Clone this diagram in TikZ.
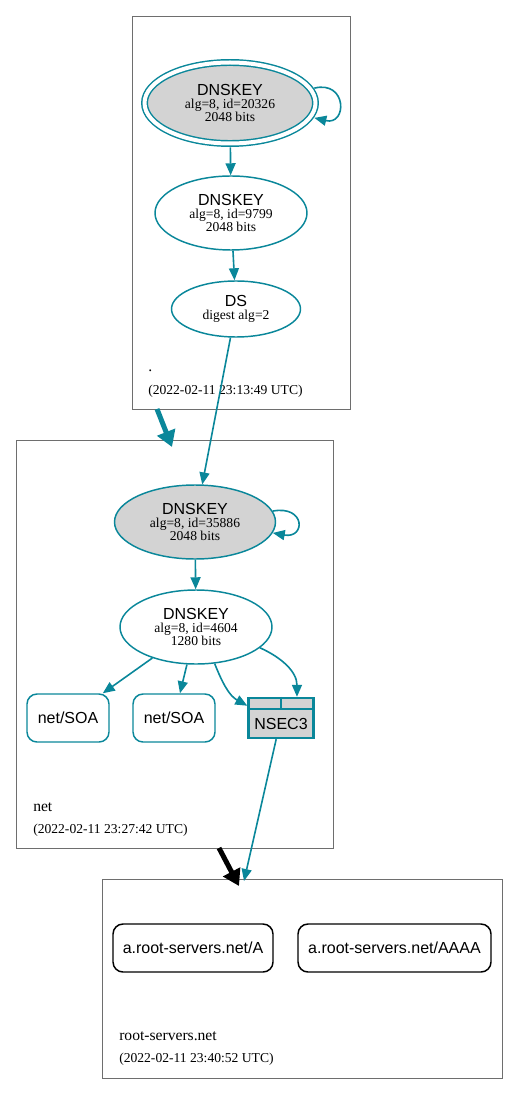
\documentclass[tikz,border=0pt]{standalone}
\usepackage{fontspec}
\setmainfont{Liberation Serif}
\setsansfont{Liberation Sans}
\definecolor{KeyTeal}{HTML}{0a879a}
\definecolor{KeyGray}{HTML}{d3d3d3}
\definecolor{ZoneLine}{HTML}{6e6e6e}
\usepackage{tikz}
\usetikzlibrary{arrows.meta,positioning,shapes.geometric}
\newcommand{\keyname}[1]{{\sffamily\fontsize{12}{12}\selectfont #1}}

\begin{document}
\begin{tikzpicture}[x=0.75pt,y=-0.75pt,
    zone/.style={draw=ZoneLine,line width=0.6pt,inner sep=0pt},
    zonename/.style={anchor=west,inner sep=0pt,font=\fontsize{11.7}{13}\selectfont},
    zonedate/.style={anchor=west,inner sep=0pt,font=\fontsize{10.2}{12}\selectfont},
    key/.style={ellipse,draw=KeyTeal,line width=1.1pt,inner sep=0pt,align=center,
                font=\fontsize{10.2}{9.75}\selectfont},
    rrset/.style={draw=KeyTeal,line width=1.1pt,rounded corners=7.5pt,
                  minimum height=36pt,font=\sffamily\fontsize{12}{14}\selectfont},
    link/.style={KeyTeal,line width=1.2pt,-{Triangle[length=9pt,width=7.5pt]}},
    delegation/.style={line width=3.75pt,-{Triangle[length=12pt,width=14pt]}}]
        \useasboundingbox (0,0) rectangle (519,1094);
        \node (zroot) [zone,minimum width=163.5pt,minimum height=294.75pt] at (241,212.5) {};
        \node (znet) [zone,minimum width=237.75pt,minimum height=306pt] at (174.5,644) {};
        \node (zrs) [zone,minimum width=300pt,minimum height=149.25pt] at (302,978.5) {};
        \node (rootname) [zonename] at (148,371) {.};
        \node (rootdate) [zonedate] at (148,391) {(2022-02-11 23:13:49 UTC)};
        \node (netname) [zonename] at (33,807) {net};
        \node (netdate) [zonedate] at (33,830) {(2022-02-11 23:27:42 UTC)};
        \node (rsname) [zonename] at (119,1036) {root-servers.net};
        \node (rsdate) [zonedate] at (119,1059) {(2022-02-11 23:40:52 UTC)};

        \node (k1) [key,double,double distance=3pt,fill=KeyGray,outer sep=3pt,
                    minimum width=128.25pt,minimum height=60.75pt] at (230,103)
              {\keyname{DNSKEY}\\alg=8, id=20326\\2048 bits};
        \node (k2) [key,minimum width=114pt,minimum height=55.5pt] at (231,213)
              {\keyname{DNSKEY}\\alg=8, id=9799\\2048 bits};
        \node (ds) [key,minimum width=96.75pt,minimum height=42pt] at (236,309)
              {\keyname{DS}\\digest alg=2};
        \node (k3) [key,fill=KeyGray,minimum width=120.75pt,minimum height=55.5pt] at (195,522)
              {\keyname{DNSKEY}\\alg=8, id=35886\\2048 bits};
        \node (k4) [key,minimum width=114pt,minimum height=55.5pt] at (196,627)
              {\keyname{DNSKEY}\\alg=8, id=4604\\1280 bits};
        \node (soa1) [rrset,minimum width=61.5pt] at (68,718) {net/SOA};
        \node (soa2) [rrset,minimum width=61.5pt] at (174,718) {net/SOA};
        \node (nsec) [draw=KeyTeal,fill=KeyGray,line width=1.8pt,inner sep=0pt,
                      minimum width=48.75pt,minimum height=30pt] at (281,718) {};
        \node (nsectext) [font=\sffamily\fontsize{12}{14}\selectfont] at (281,724) {NSEC3};
        \draw[KeyTeal,line width=1.5pt] (nsec.north west) ++(0,12) -- ++(65,0);
        \draw[KeyTeal,line width=1.5pt] (nsec.north) -- ++(0,12);
        \node (rsa) [rrset,draw=black,minimum width=120pt] at (193,948) {a.root-servers.net/A};
        \node (rsaaaa) [rrset,draw=black,minimum width=144.75pt] at (394.5,948) {a.root-servers.net/AAAA};

        \draw[link] (k1) -- (k2);
        \draw[link] (k1.10) .. controls +(33,-8) and +(33,8) .. (k1.-10);
        \draw[link] (k2) -- (ds);
        \draw[link] (ds) -- (k3);
        \draw[link] (k3.8) .. controls +(33,-6) and +(33,6) .. (k3.-8);
        \draw[link] (k3) -- (k4);
        \draw[link] (k4) -- (soa1);
        \draw[link] (k4) -- (soa2);
        \draw[link] (k4.-63) .. controls +(8,20) and +(-18,-10) .. (nsec.160);
        \draw[link] (k4.-18) .. controls +(22,10) and +(0,-25) .. (nsec.53);
        \coordinate (rscut) at (244,881);
        \draw[link] (nsec) -- (rscut);

        \coordinate (rootout) at (157,409);
        \coordinate (netin) at (172,447);
        \draw[delegation,KeyTeal] (rootout) -- (netin);
        \coordinate (netout) at (219,848);
        \coordinate (rsin) at (239,886);
        \draw[delegation,black] (netout) -- (rsin);
      \end{tikzpicture}
\end{document}
